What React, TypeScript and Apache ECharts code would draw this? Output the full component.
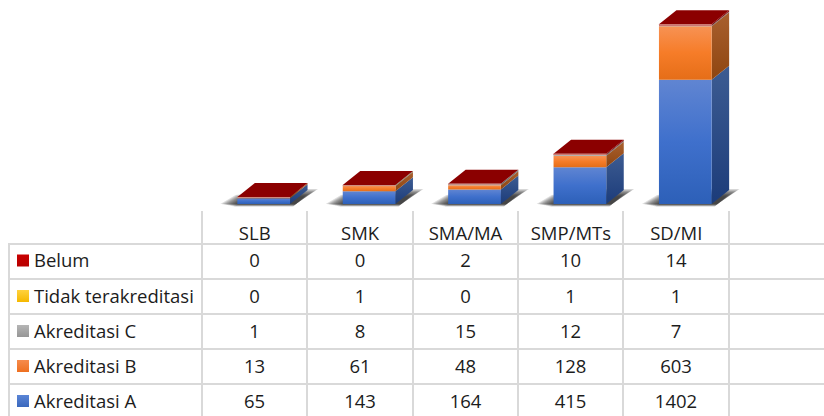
import React, { useEffect, useRef } from "react";
import * as echarts from "echarts";

const categories = ["SLB", "SMK", "SMA/MA", "SMP/MTs", "SD/MI"];
const akreditasiA = [65, 143, 164, 415, 1402];
const akreditasiB = [13, 61, 48, 128, 603];
const akreditasiC = [1, 8, 15, 12, 7];
const tidakTerakreditasi = [0, 1, 0, 1, 1];
const belum = [0, 0, 2, 10, 14];

const stackOrder = [
  { name: "Akreditasi A", values: akreditasiA, front: ["#6085d2", "#3f70cc", "#2d60b8"], side: ["#3d5c92", "#1c3c7a"], swatch: ["#5b85d6", "#3a68bd"] },
  { name: "Akreditasi B", values: akreditasiB, front: ["#f79254", "#f67c28", "#e56e18"], side: ["#a9602f", "#8e4510"], swatch: ["#f68b4c", "#ee7020"] },
  { name: "Akreditasi C", values: akreditasiC, front: ["#c0c0c0", "#a5a5a5", "#959595"], side: ["#787878", "#606060"], swatch: ["#b5b5b5", "#969696"] },
  { name: "Tidak terakreditasi", values: tidakTerakreditasi, front: ["#ffd54a", "#ffc000", "#eeb000"], side: ["#a98400", "#8d6e00"], swatch: ["#ffd23f", "#f5b800"] },
  { name: "Belum", values: belum, front: ["#d03030", "#c00000", "#b00000"], side: ["#8a0000", "#700000"], swatch: ["#c80000", "#b80000"] },
];

const DX = 17.5;
const DY = -14;
const BAR_SHIFT = 9;
const FONT = "'Open Sans', sans-serif";
const FONT_SIZE = 18.5;
const TEXT = "#1c1c1c";
const LINE = "#d9d9d9";
const colX = [202, 307, 413, 518, 623, 729];
const rowY = [244, 279, 314, 349, 384];
const shadowSteps = [14, 12.5, 11, 9.5, 8, 6.5, 5, 3.5, 2, 0.5];

function vGrad(stops: string[]) {
  return new echarts.graphic.LinearGradient(
    0, 0, 0, 1,
    stops.map((c, i) => ({ offset: stops.length === 1 ? 0 : i / (stops.length - 1), color: c }))
  );
}

function makeRenderItem(level: number) {
  const spec = stackOrder[level];
  return (params: any, api: any) => {
    const idx = api.value(0);
    const start = api.value(1);
    const end = api.value(2);
    const w = api.size([1, 0])[0] * 0.5;
    const cx = api.coord([idx, 0])[0] + BAR_SHIFT;
    const y0 = api.coord([idx, start])[1];
    const y1 = api.coord([idx, end])[1];
    const l = cx - w / 2;
    const r = cx + w / 2;
    const children: any[] = [];
    if (level === 0) {
      shadowSteps.forEach((g) => {
        const bottom = y0 + 2.5 - g * 0.18;
        const top = y0 + DY - 1 + g * 0.0 + (14 - g) * 0.55;
        children.push({
          type: "polygon",
          shape: {
            points: [
              [l - 3 - g, bottom],
              [r + 3 + g * 0.2, bottom],
              [r + 14 + g, top],
              [r - 8, top],
              [l + 8 - g * 0.7, y0 - 9 + (14 - g) * 0.35],
            ],
          },
          style: { fill: "rgba(20,20,20,0.14)" },
        });
      });
    }
    if (end > start) {
      children.push({
        type: "polygon",
        shape: { points: [[r, y0], [r + DX, y0 + DY], [r + DX, y1 + DY], [r, y1]] },
        style: { fill: vGrad(spec.side) },
      });
      children.push({
        type: "rect",
        shape: { x: l, y: y1, width: r - l, height: y0 - y1 },
        style: { fill: vGrad(spec.front) },
      });
    }
    if (level === stackOrder.length - 1) {
      children.push({
        type: "polygon",
        shape: { points: [[l, y1], [r, y1], [r + DX, y1 + DY], [l + DX, y1 + DY]] },
        style: { fill: "#8b0000" },
      });
      children.push({
        type: "line",
        shape: { x1: l, y1: y1 + 0.5, x2: r, y2: y1 + 0.5 },
        style: { stroke: "#d08a80", lineWidth: 1 },
      });
    }
    return { type: "group", children };
  };
}

function tableGraphics() {
  const out: any[] = [];
  const seg = (x1: number, y1: number, x2: number, y2: number) =>
    out.push({ type: "line", silent: true, shape: { x1, y1, x2, y2 }, style: { stroke: LINE, lineWidth: 2 } });
  rowY.forEach((y) => seg(9, y, 824, y));
  seg(9, 243, 9, 416);
  colX.forEach((x) => seg(x, 211, x, 416));

  const centerY = [260.5, 296, 331, 366, 401];
  const textShift = -1;
  [...stackOrder].reverse().forEach((s, r) => {
    const y = centerY[r];
    out.push({
      type: "rect",
      shape: { x: 17, y: y - 6, width: 12, height: 12 },
      style: { fill: vGrad(s.swatch) },
    });
    out.push({
      type: "text",
      x: 34,
      y: y + textShift,
      style: { text: s.name, font: `${FONT_SIZE}px ${FONT}`, fill: TEXT, textAlign: "left", textVerticalAlign: "middle" },
    });
    categories.forEach((_, c) => {
      out.push({
        type: "text",
        x: (colX[c] + colX[c + 1]) / 2,
        y: y + textShift,
        style: { text: String(s.values[c]), font: `${FONT_SIZE}px ${FONT}`, fill: TEXT, textAlign: "center", textVerticalAlign: "middle" },
      });
    });
  });
  return out;
}

export default function App() {
  const ref = useRef<HTMLDivElement>(null);
  useEffect(() => {
    document.body.style.margin = "0";
    const chart = echarts.init(ref.current!, undefined, { renderer: "svg" });
    const stacked = categories.map(() => 0);
    const series = stackOrder.map((s, level) => {
      const data = s.values.map((v, i) => {
        const start = stacked[i];
        stacked[i] = start + v;
        return [i, start, stacked[i]];
      });
      return {
        type: "custom",
        name: s.name,
        renderItem: makeRenderItem(level),
        clip: false,
        encode: { x: 0, y: [1, 2] },
        data,
        z: 2 + level,
      };
    });
    chart.setOption({
      animation: false,
      backgroundColor: "#ffffff",
      grid: { left: 202, width: 527, top: 0, height: 204, containLabel: false },
      xAxis: {
        type: "category",
        data: categories,
        axisLine: { show: false },
        axisTick: { show: false },
        axisLabel: { fontFamily: FONT, fontSize: FONT_SIZE, color: TEXT, margin: 19, interval: 0 },
      },
      yAxis: { type: "value", min: 0, max: 2300, show: false, splitLine: { show: false } },
      series,
      graphic: { elements: tableGraphics() },
    });
    return () => chart.dispose();
  }, []);
  return <div ref={ref} style={{ width: 824, height: 416 }} />;
}
